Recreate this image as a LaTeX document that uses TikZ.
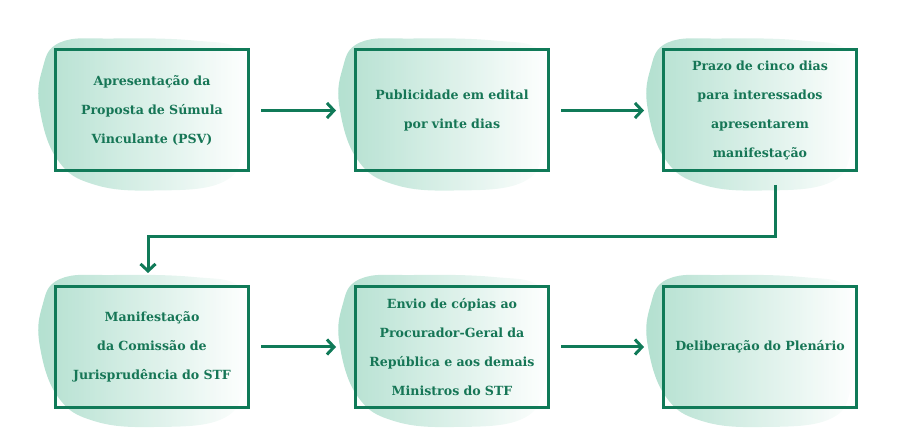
\documentclass[tikz,border=0pt]{standalone}
\usepackage{fontspec}
\setmainfont{DejaVu Serif}
\usetikzlibrary{arrows.meta,backgrounds}

\begin{document}
\begin{tikzpicture}[x=1pt,y=-1pt]
    \definecolor{stf_green}{RGB}{16,122,88}
    \definecolor{stf_text}{RGB}{22,118,86}
    \definecolor{stf_blob}{RGB}{160,216,196}
    \tikzset{
        stepbox/.style={shape=rectangle,draw=stf_green,line width=3pt,minimum width=193pt,minimum height=121pt,
            text width=186pt,align=center,text=stf_text,font=\bfseries\fontsize{12.6}{29}\selectfont},
        flow/.style={draw=stf_green,line width=3pt,-{Straight Barb[length=7pt,width=15pt,line width=3pt]}}
    }
    \useasboundingbox (0,0) rectangle (900,446);
    \node[stepbox] (p1) at (152,110.5) {Apresentação da\\Proposta de Súmula\\Vinculante (PSV)};
    \node[stepbox] (p2) at (452,110.5) {Publicidade em edital\\por vinte dias};
    \node[stepbox] (p3) at (760,110.5) {Prazo de cinco dias\\para interessados\\apresentarem\\manifestação};
    \node[stepbox] (p4) at (152,347) {Manifestação\\da Comissão de\\Jurisprudência do STF};
    \node[stepbox] (p5) at (452,347) {Envio de cópias ao\\Procurador-Geral da\\República e aos demais\\Ministros do STF};
    \node[stepbox] (p6) at (760,347) {Deliberação do Plenário};
    % watercolour patches behind the boxes
    \begin{scope}[on background layer]
    \foreach \b in {p1,p2,p3,p4,p5,p6} {
        \shade[shift={(\b.north west)},left color=stf_blob,right color=white,opacity=0.8]
            plot[smooth cycle,tension=0.7] coordinates {(-12,22) (6,-6) (60,-10) (140,-8) (186,2) (196,40)
            (190,100) (168,134) (100,142) (40,136) (4,112) (-14,62)};
    }
    \end{scope}
    % connectors
    \coordinate (c3) at (775,185);
    \coordinate (bend) at (775,237);
    \coordinate (c4) at (148,286);
    \draw[flow,shorten <=11pt,shorten >=18pt] (p1.east) -- (p2.west);
    \draw[flow,shorten <=11pt,shorten >=18pt] (p2.east) -- (p3.west);
    \draw[flow,shorten <=11pt,shorten >=18pt] (p4.east) -- (p5.west);
    \draw[flow,shorten <=11pt,shorten >=18pt] (p5.east) -- (p6.west);
    \draw[flow,shorten >=13pt] (c3) -- (bend) -| (c4);
\end{tikzpicture}
\end{document}
